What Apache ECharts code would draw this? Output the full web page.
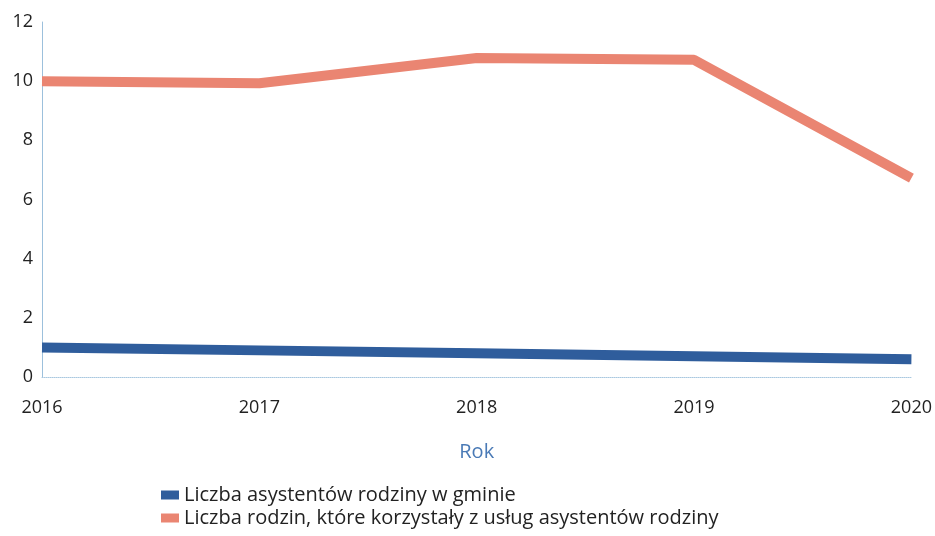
<!DOCTYPE html>
<html>
<head>
<meta charset="utf-8">
<script src="https://cdn.jsdelivr.net/npm/echarts@6/dist/echarts.min.js"></script>
<style>
  html, body { margin: 0; padding: 0; background: #fff; }
  #chart { width: 935px; height: 536px; }
</style>
</head>
<body>
<div id="chart"></div>
<script>
// lata
const years = ["2016", "2017", "2018", "2019", "2020"];
// liczba asystentów rodziny w gminie
const assistants = [1.0, 0.9, 0.8, 0.7, 0.6];
// liczba rodzin korzystających z usług asystentów
const families = [10.0, 9.93, 10.78, 10.72, 6.72];

const seriesNames = [
  "Liczba asystentów rodziny w gminie",
  "Liczba rodzin, które korzystały z usług asystentów rodziny",
];

const font = "'Open Sans', 'Noto Sans', sans-serif";
const chart = echarts.init(document.getElementById("chart"));

chart.setOption({
  animation: false,
  color: ["#2f5d9c", "#ea8572"],
  grid: { left: 42, right: 23, top: 22, bottom: 159 },
  legend: {
    orient: "vertical",
    left: 156,
    top: 480,
    icon: "rect",
    itemWidth: 18,
    itemHeight: 9,
    itemGap: 3,
    textStyle: { fontFamily: font, fontSize: 20, color: "#222" },
    data: seriesNames,
  },
  xAxis: {
    type: "category",
    data: years,
    boundaryGap: false,
    name: "Rok",
    nameLocation: "middle",
    nameGap: 65,
    nameTextStyle: { fontFamily: font, fontSize: 20, color: "#4a7ab6" },
    axisLine: { lineStyle: { color: "#a9c8e0", width: 1, type: "dotted" } },
    axisTick: { show: false },
    axisLabel: {
      fontFamily: font,
      fontSize: 18,
      color: "#222",
      margin: 22,
    },
  },
  yAxis: {
    type: "value",
    min: 0,
    max: 12,
    interval: 2,
    axisLine: { show: true, lineStyle: { color: "#9cc0dc", width: 1 } },
    axisTick: { show: false },
    splitLine: { show: false },
    axisLabel: { fontFamily: font, fontSize: 18, color: "#222", margin: 9 },
  },
  series: [
    {
      name: seriesNames[0],
      type: "line",
      data: assistants,
      symbol: "none",
      lineStyle: { width: 10 },
    },
    {
      name: seriesNames[1],
      type: "line",
      data: families,
      symbol: "none",
      lineStyle: { width: 10 },
    },
  ],
});
</script>
</body>
</html>
